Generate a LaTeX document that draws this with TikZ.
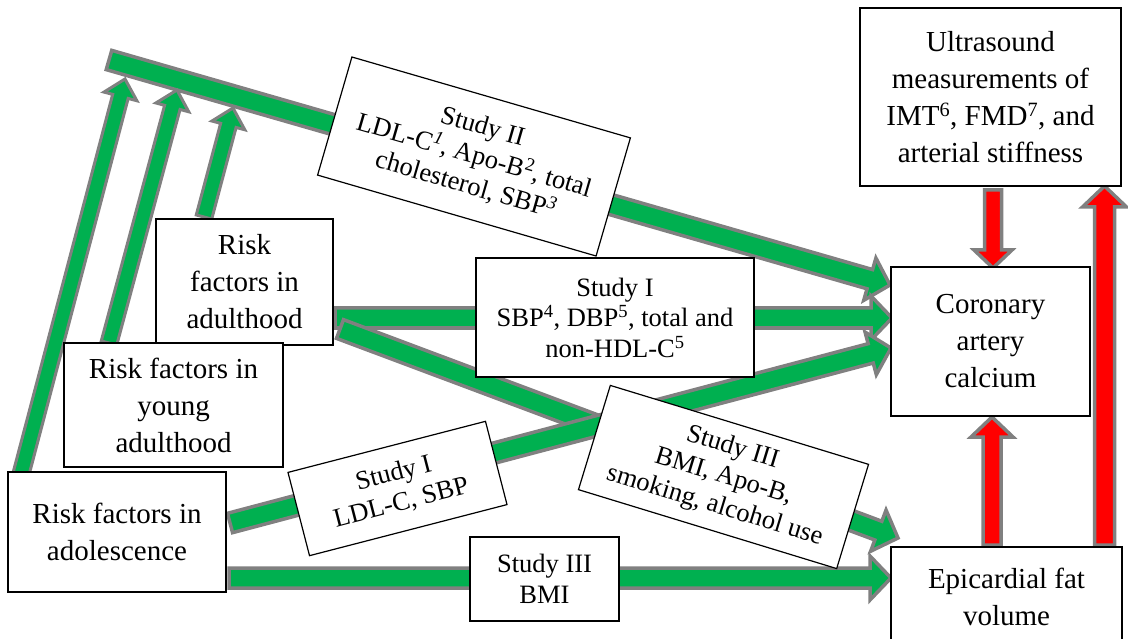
\documentclass[tikz,border=0pt]{standalone}
\usepackage{fontspec}
\setmainfont{Liberation Serif}
\usetikzlibrary{calc}
\definecolor{agreen}{HTML}{00B050}
\definecolor{agray}{HTML}{808080}
\definecolor{ared}{HTML}{FF0000}
\newcommand{\mainfs}{\fontsize{29}{37}\selectfont}
\newcommand{\studyfs}{\fontsize{26.5}{30.5}\selectfont}
% #1 style, #2 start, #3 end, #4 shaft half width, #5 head half width, #6 head length
\newcommand{\fatarrow}[6]{%
  \coordinate (faH) at ($(#3)!#6!(#2)$);
  \draw[#1] ($(#2)!#4!90:(#3)$) -- ($(faH)!#4!-90:(#2)$) -- ($(faH)!#5!-90:(#2)$)
    -- (#3) -- ($(faH)!#5!90:(#2)$) -- ($(faH)!#4!90:(#2)$) -- ($(#2)!#4!-90:(#3)$) -- cycle;
}
\begin{document}
\begin{tikzpicture}[x=1pt,y=-1pt,
  greenarrow/.style={fill=agreen, draw=agray, line width=3.5pt, line join=miter},
  thinarrow/.style={fill=agreen, draw=agray, line width=3pt, line join=miter},
  redarrow/.style={fill=ared, draw=agray, line width=3.5pt, line join=miter},
  box/.style={draw, line width=1.2pt, fill=white, inner sep=0pt, align=center, font=\mainfs},
  studybox/.style={draw, line width=1.2pt, fill=white, inner sep=0pt, align=center, font=\studyfs}]
\useasboundingbox (0,0) rectangle (1128,639);
\clip (0,0) rectangle (1128,639);

% connector end points
\coordinate (b0) at (109,60);   \coordinate (b1) at (890,285);
\coordinate (u1s) at (21,474);  \coordinate (u1e) at (125,79);
\coordinate (u2s) at (109,343); \coordinate (u2e) at (177,90);
\coordinate (u3s) at (204,217); \coordinate (u3e) at (233,108);
\coordinate (a4s) at (335,318); \coordinate (a4e) at (892,318);
\coordinate (a5s) at (340,329); \coordinate (a5e) at (898,538);
\coordinate (a6s) at (230,523); \coordinate (a6e) at (891,348);
\coordinate (a7s) at (229,578); \coordinate (a7e) at (891,578);
\coordinate (r8s) at (993,190); \coordinate (r8e) at (993,268);
\coordinate (r9s) at (992,545); \coordinate (r9e) at (992,417);
\coordinate (r10s) at (1104.5,545); \coordinate (r10e) at (1104.5,186);

% green arrows
\fatarrow{greenarrow}{b0}{b1}{10pt}{22pt}{21pt}
\fatarrow{thinarrow}{u1s}{u1e}{8pt}{17pt}{18pt}
\fatarrow{thinarrow}{u2s}{u2e}{8pt}{17pt}{18pt}
\fatarrow{thinarrow}{u3s}{u3e}{8pt}{17pt}{18pt}
\fatarrow{greenarrow}{a4s}{a4e}{10pt}{22pt}{21pt}
\fatarrow{greenarrow}{a5s}{a5e}{10pt}{22pt}{21pt}
\fatarrow{greenarrow}{a6s}{a6e}{10pt}{22pt}{21pt}
\fatarrow{greenarrow}{a7s}{a7e}{10pt}{22pt}{21pt}
% red arrows
\fatarrow{redarrow}{r8s}{r8e}{8.5pt}{19pt}{18pt}
\fatarrow{redarrow}{r9s}{r9e}{9pt}{21pt}{20pt}
\fatarrow{redarrow}{r10s}{r10e}{10pt}{22pt}{21pt}

% boxes
\node[box, minimum width=261pt, minimum height=178pt] (ultra) at (990.5,97)
  {Ultrasound\\measurements of\\IMT\textsuperscript{6}, FMD\textsuperscript{7}, and\\arterial stiffness};
\node[box, minimum width=199pt, minimum height=149pt] (cac) at (990.5,341.5)
  {Coronary\\artery\\calcium};
\node[box, minimum width=231pt, minimum height=100pt] (epi) at (1006.5,597)
  {Epicardial fat\\volume};
\node[box, minimum width=177pt, minimum height=126pt] (adult) at (244.5,282)
  {Risk\\factors in\\adulthood};
\node[box, minimum width=219pt, minimum height=124pt] (young) at (173.5,405)
  {Risk factors in\\young\\adulthood};
\node[box, minimum width=218pt, minimum height=120pt] (adol) at (117,532)
  {Risk factors in\\adolescence};
\node[studybox, minimum width=278pt, minimum height=119pt] (s1) at (615,317.5)
  {Study I\\SBP\textsuperscript{4}, DBP\textsuperscript{5}, total and\\non-HDL-C\textsuperscript{5}};
\node[studybox, minimum width=149pt, minimum height=84pt] (s3b) at (544.5,579)
  {Study III\\BMI};
\node[studybox, minimum width=290pt, minimum height=123pt, rotate=-16.2] (s2) at (474,156.5)
  {Study II\\LDL-C\textsuperscript{\itshape 1}, Apo-B\textsuperscript{2}, total\\cholesterol, SBP\textsuperscript{\itshape 3}};
\node[studybox, minimum width=204pt, minimum height=86pt, rotate=14.5] (s1b) at (397.5,488.5)
  {Study I\\LDL-C, SBP};
\node[studybox, minimum width=270pt, minimum height=109pt, rotate=-17] (s3) at (723.5,477)
  {Study III\\BMI, Apo-B,\\smoking, alcohol use};
\end{tikzpicture}
\end{document}
